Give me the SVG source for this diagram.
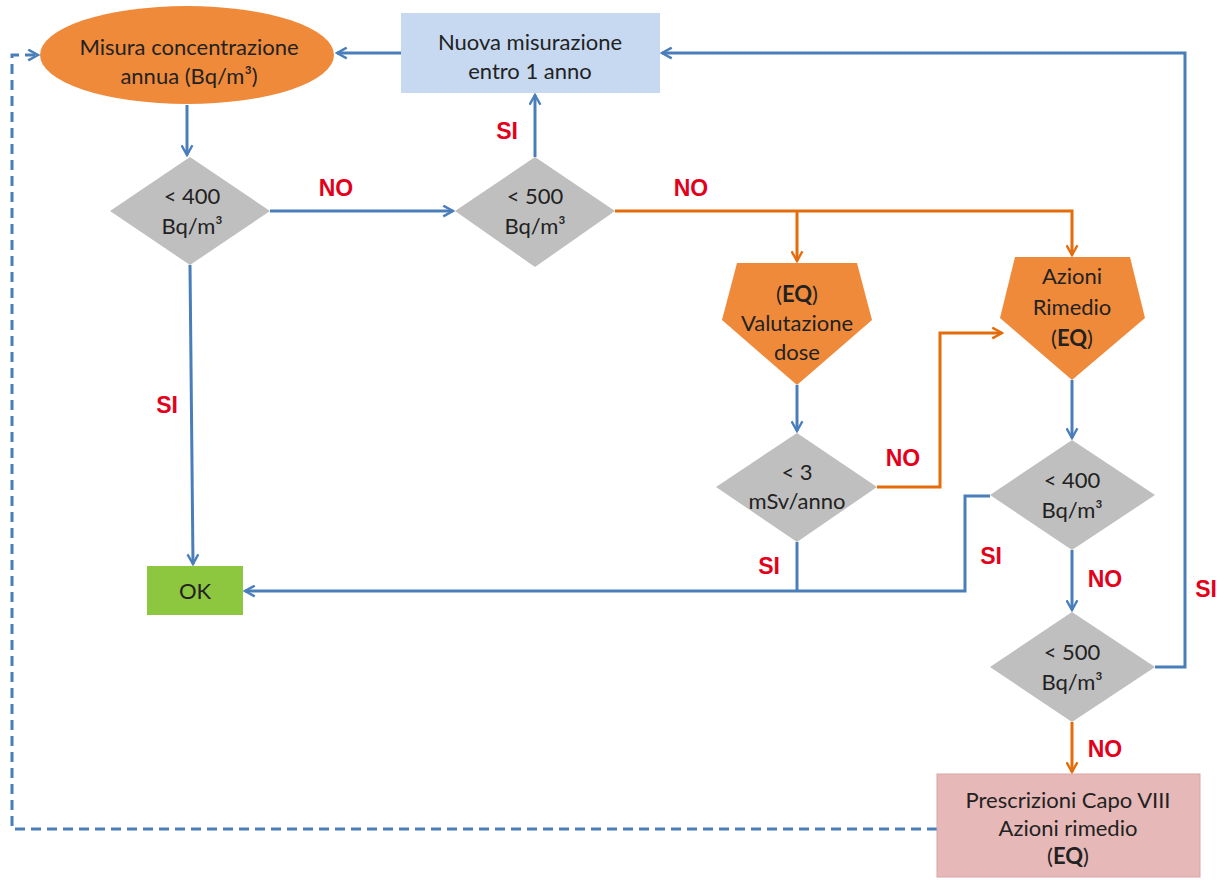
<svg xmlns="http://www.w3.org/2000/svg" width="1224" height="885" viewBox="0 0 1224 885">
<defs>
<marker id="ab" viewBox="0 0 12 12" refX="10" refY="6" markerWidth="13" markerHeight="13" markerUnits="userSpaceOnUse" orient="auto"><path d="M1,1 L10,6 L1,11" fill="none" stroke="#4A7EBB" stroke-width="2.2"/></marker>
<marker id="ao" viewBox="0 0 12 12" refX="10" refY="6" markerWidth="13" markerHeight="13" markerUnits="userSpaceOnUse" orient="auto"><path d="M1,1 L10,6 L1,11" fill="none" stroke="#E46C0A" stroke-width="2.2"/></marker>
</defs>
<style>
.t{font-family:"Lato","Liberation Sans",sans-serif;font-size:22px;fill:#222222;text-anchor:middle}
.b{font-weight:bold}
.l{font-family:"Liberation Sans",sans-serif;font-size:23px;font-weight:bold;fill:#E3001B;text-anchor:middle}
.cb{fill:none;stroke:#4A7EBB;stroke-width:3}
.co{fill:none;stroke:#E46C0A;stroke-width:3}
.dia{fill:#BFBFBF}
.pent{fill:#F08A3B}
</style>
<rect width="1224" height="885" fill="#ffffff"/>
<g id="connectors">
<path class="cb" d="M401,53 L337,53" marker-end="url(#ab)"/>
<path class="cb" d="M187,105 L187,155" marker-end="url(#ab)"/>
<path class="cb" d="M270,211 L453,211" marker-end="url(#ab)"/>
<path class="cb" d="M535,157 L535,95" marker-end="url(#ab)"/>
<path class="co" d="M615,211 L1072,211 L1072,255" marker-end="url(#ao)"/>
<path class="co" d="M797,211 L797,261" marker-end="url(#ao)"/>
<path class="cb" d="M797,385 L797,431" marker-end="url(#ab)"/>
<path class="co" d="M877,487 L940,487 L940,333 L1002,333" marker-end="url(#ao)"/>
<path class="cb" d="M190,265 L193,564" marker-end="url(#ab)"/>
<path class="cb" d="M990,496 L965,496 L965,591 L245,591" marker-end="url(#ab)"/>
<path class="cb" d="M797,542 L797,591"/>
<path class="cb" d="M1072,380 L1072,438" marker-end="url(#ab)"/>
<path class="cb" d="M1072,550 L1072,610" marker-end="url(#ab)"/>
<path class="cb" d="M1155,667 L1185,667 L1185,53 L662,53" marker-end="url(#ab)"/>
<path class="co" d="M1072,722 L1072,772" marker-end="url(#ao)"/>
<path fill="none" stroke="#4A7EBB" stroke-width="3" stroke-dasharray="10,6" d="M937,829 L12,829 L12,55 L38,55" marker-end="url(#ab)"/>
</g>
<g id="labels">
<text class="l" x="336" y="196">NO</text>
<text class="l" x="507" y="139">SI</text>
<text class="l" x="691" y="196">NO</text>
<text class="l" x="167" y="413">SI</text>
<text class="l" x="903" y="466">NO</text>
<text class="l" x="769" y="574">SI</text>
<text class="l" x="991" y="564">SI</text>
<text class="l" x="1105" y="587">NO</text>
<text class="l" x="1206" y="597">SI</text>
<text class="l" x="1105" y="757">NO</text>
</g>
<g id="n-misura">
<ellipse cx="187" cy="55" rx="147" ry="49" fill="#F08A3B"/>
<text class="t" x="189" y="55">Misura concentrazione</text>
<text class="t" x="189" y="84">annua (Bq/m³)</text>
</g>
<g id="n-nuova">
<rect x="401" y="13" width="259" height="80" fill="#C6D9F1"/>
<text class="t" x="530" y="50">Nuova misurazione</text>
<text class="t" x="530" y="79">entro 1 anno</text>
</g>
<g id="n-d400a">
<polygon class="dia" points="190,157 270,211 190,265 110,211"/>
<text class="t" x="192" y="204">&lt; 400</text>
<text class="t" x="192" y="234">Bq/m³</text>
</g>
<g id="n-d500a">
<polygon class="dia" points="535,157 615,211 535,267 455,211"/>
<text class="t" x="535" y="204">&lt; 500</text>
<text class="t" x="535" y="234">Bq/m³</text>
</g>
<g id="n-valutazione">
<polygon class="pent" points="737,263 857,263 872,320 797,385 722,320"/>
<text class="t" x="797" y="302">(<tspan class="b">EQ</tspan>)</text>
<text class="t" x="797" y="331">Valutazione</text>
<text class="t" x="797" y="360">dose</text>
</g>
<g id="n-azioni">
<polygon class="pent" points="1015,257 1130,257 1145,318 1072,380 1000,318"/>
<text class="t" x="1072" y="284">Azioni</text>
<text class="t" x="1072" y="315">Rimedio</text>
<text class="t" x="1072" y="346">(<tspan class="b">EQ</tspan>)</text>
</g>
<g id="n-d3">
<polygon class="dia" points="797,433 877,487 797,542 716,487"/>
<text class="t" x="797" y="480">&lt; 3</text>
<text class="t" x="797" y="509">mSv/anno</text>
</g>
<g id="n-d400b">
<polygon class="dia" points="1072,440 1155,495 1072,550 990,495"/>
<text class="t" x="1072" y="488">&lt; 400</text>
<text class="t" x="1072" y="518">Bq/m³</text>
</g>
<g id="n-d500b">
<polygon class="dia" points="1072,612 1155,667 1072,722 990,667"/>
<text class="t" x="1072" y="660">&lt; 500</text>
<text class="t" x="1072" y="690">Bq/m³</text>
</g>
<g id="n-ok">
<rect x="147" y="566" width="96" height="49" fill="#8DC63F"/>
<text class="t" x="195" y="599">OK</text>
</g>
<g id="n-prescrizioni">
<rect x="937" y="774" width="263" height="103" fill="#E6B8B7" stroke="#D9A3A2" stroke-width="1"/>
<text class="t" x="1068" y="808">Prescrizioni Capo VIII</text>
<text class="t" x="1068" y="836">Azioni rimedio</text>
<text class="t" x="1068" y="864">(<tspan class="b">EQ</tspan>)</text>
</g>
</svg>
